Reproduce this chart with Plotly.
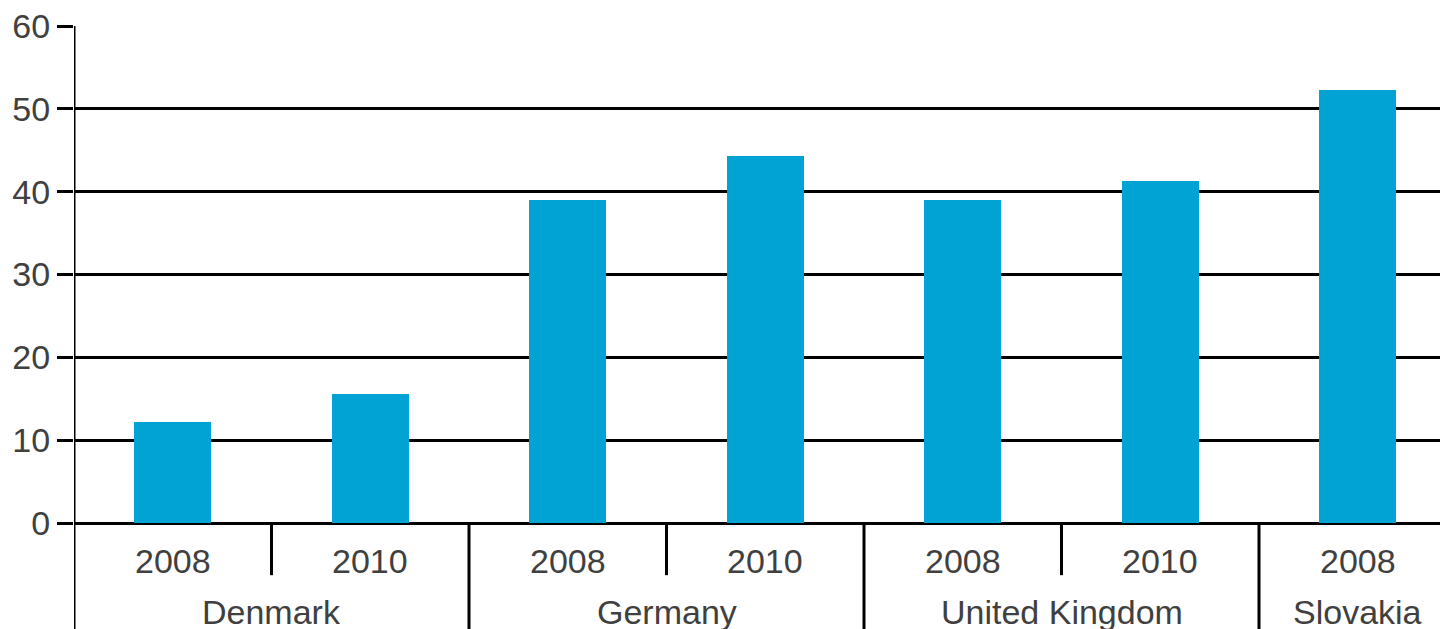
import plotly.graph_objects as go

countries = ["Denmark", "Denmark", "Germany", "Germany", "United Kingdom", "United Kingdom", "Slovakia"]
years = ["2008", "2010", "2008", "2010", "2008", "2010", "2008"]
values = [12.2, 15.6, 39.0, 44.3, 39.0, 41.3, 52.3]
y_ticks = [0, 10, 20, 30, 40, 50, 60]

BAR_COLOR = "#00A3D3"
TEXT_COLOR = "#404040"
FONT = "Liberation Sans, Arial, sans-serif"
FS = 34

x_pos = [i + 0.5 for i in range(len(values))]

fig = go.Figure()
fig.add_trace(go.Bar(x=x_pos, y=values, width=0.39, marker=dict(color=BAR_COLOR, line=dict(width=0)),
                     showlegend=False, hoverinfo="skip"))

shapes = []
annotations = []
shapes.append(dict(type="line", xref="x", yref="paper", x0=0, x1=0, y0=1, y1=-0.3,
                   line=dict(color="black", width=3)))
for i, (c, yv) in enumerate(zip(countries, years)):
    annotations.append(dict(x=i + 0.5, y=-0.077, xref="x", yref="paper", text=yv, showarrow=False,
                            xanchor="center", yanchor="middle", font=dict(size=FS, color=TEXT_COLOR, family=FONT)))
    if i > 0:
        if countries[i - 1] == c:
            shapes.append(dict(type="line", xref="x", yref="paper", x0=i, x1=i, y0=0, y1=-0.105,
                               line=dict(color="black", width=3)))
        else:
            shapes.append(dict(type="line", xref="x", yref="paper", x0=i, x1=i, y0=0, y1=-0.3,
                               line=dict(color="black", width=3)))
groups = []
for i, c in enumerate(countries):
    if groups and groups[-1][0] == c:
        groups[-1][2] = i + 1
    else:
        groups.append([c, i, i + 1])
for c, s, e in groups:
    annotations.append(dict(x=(s + e) / 2, y=-0.18, xref="x", yref="paper", text=c, showarrow=False,
                            xanchor="center", yanchor="middle", font=dict(size=FS, color=TEXT_COLOR, family=FONT)))

fig.update_layout(
    width=1440, height=629,
    margin=dict(l=74, r=0, t=26, b=106),
    plot_bgcolor="white", paper_bgcolor="white",
    bargap=0,
    shapes=shapes, annotations=annotations,
    xaxis=dict(range=[0, 1366 / 197.5], showgrid=False, showticklabels=False, ticks="", zeroline=False,
               showline=False, fixedrange=True),
    yaxis=dict(range=[0, 60], tickvals=y_ticks, showgrid=True, gridcolor="black", gridwidth=3,
               zeroline=True, zerolinecolor="black", zerolinewidth=3,
               ticks="outside", ticklen=16, tickwidth=3, tickcolor="black",
               tickfont=dict(size=FS, color=TEXT_COLOR, family=FONT), ticklabelstandoff=0,
               showline=False, fixedrange=True, automargin=False),
)

fig.write_html("out.html", config={"displayModeBar": False},
               post_script="document.body.style.margin='0';document.body.style.overflow='hidden';")
